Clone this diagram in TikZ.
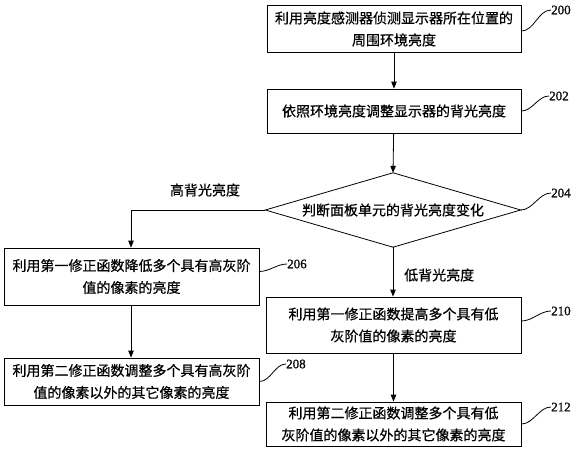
\documentclass[tikz,border=0pt]{standalone}
\usepackage{fontspec}
\newfontfamily\cjk[FakeBold=0.6]{Noto Sans CJK SC}
\newfontfamily\numfont[FakeBold=0.8]{Liberation Serif}
\usetikzlibrary{arrows.meta,calc}
\begin{document}
\begin{tikzpicture}[x=1pt,y=-1pt,
  box/.style={draw,line width=0.8pt,inner sep=0pt,align=center,font=\cjk\fontsize{14}{22}\selectfont},
  lbl/.style={anchor=west,inner sep=0pt,font=\numfont\fontsize{13}{13}\selectfont},
  arr/.style={line width=0.8pt,-{Triangle[length=7pt,width=5.5pt]}},
  sq/.style={line width=0.8pt,out=0,in=180,looseness=0.9},
  txt/.style={inner sep=0pt,font=\cjk\fontsize{14}{16}\selectfont}]
\useasboundingbox (0,0) rectangle (576,450);
\node[box,minimum width=254pt,minimum height=47pt] (b200) at (394,29) {利用亮度感测器侦测显示器所在位置的\\周围环境亮度};
\node[box,minimum width=254pt,minimum height=44pt] (b202) at (394,111) {依照环境亮度调整显示器的背光亮度};
\node[inner sep=0pt,minimum width=255pt,minimum height=74pt,font=\cjk\fontsize{14}{16}\selectfont] (d204) at (393,210) {判断面板单元的背光亮度变化};
\draw[line width=0.8pt,line join=miter] (d204.north) -- (d204.east) -- (d204.south) -- (d204.west) -- cycle;
\node[box,minimum width=255pt,minimum height=57pt] (b206) at (131.5,276.5) {利用第一修正函数降低多个具有高灰阶\\值的像素的亮度};
\node[box,minimum width=255pt,minimum height=47pt] (b208) at (131.5,381.5) {利用第二修正函数调整多个具有高灰阶\\值的像素以外的其它像素的亮度};
\node[box,minimum width=255pt,minimum height=56pt] (b210) at (393.5,325) {利用第一修正函数提高多个具有低\\灰阶值的像素的亮度};
\node[box,minimum width=255pt,minimum height=44pt] (b212) at (393.5,424) {利用第二修正函数调整多个具有低\\灰阶值的像素以外的其它像素的亮度};
\node[lbl] (l200) at (551,10) {200};
\node[lbl] (l202) at (549,96) {202};
\node[lbl] (l204) at (551,193) {204};
\node[lbl] (l206) at (287,264) {206};
\node[lbl] (l208) at (286,364) {208};
\node[lbl] (l210) at (551,311) {210};
\node[lbl] (l212) at (551,407) {212};
\node[txt] (hi) at (205,190) {高背光亮度};
\node[txt,anchor=west] (lo) at (404,275) {低背光亮度};
\coordinate (corner) at (131,210);
\draw[arr] (b200) -- (b202);
\draw[arr] (b202) -- (d204.north);
\draw[line width=0.8pt] (d204.west) -- (corner);
\draw[arr] (corner) -- (b206.north -| corner);
\draw[arr] (d204.south) -- (b210.north -| d204.south);
\draw[arr] (b206.south -| corner) -- (b208.north -| corner);
\draw[arr] (b210) -- (b212);
\draw[sq] ([yshift=-2pt]b200.east) to (l200.west);
\draw[sq] (b202.east) to (l202.west);
\draw[sq] (d204.east) to (l204.west);
\draw[sq] ([yshift=5pt]b206.east) to (l206.west);
\draw[sq] (b208.east) to (l208.west);
\draw[sq] ([yshift=4pt]b210.east) to (l210.west);
\draw[sq] (b212.east) to (l212.west);
\end{tikzpicture}
\end{document}
